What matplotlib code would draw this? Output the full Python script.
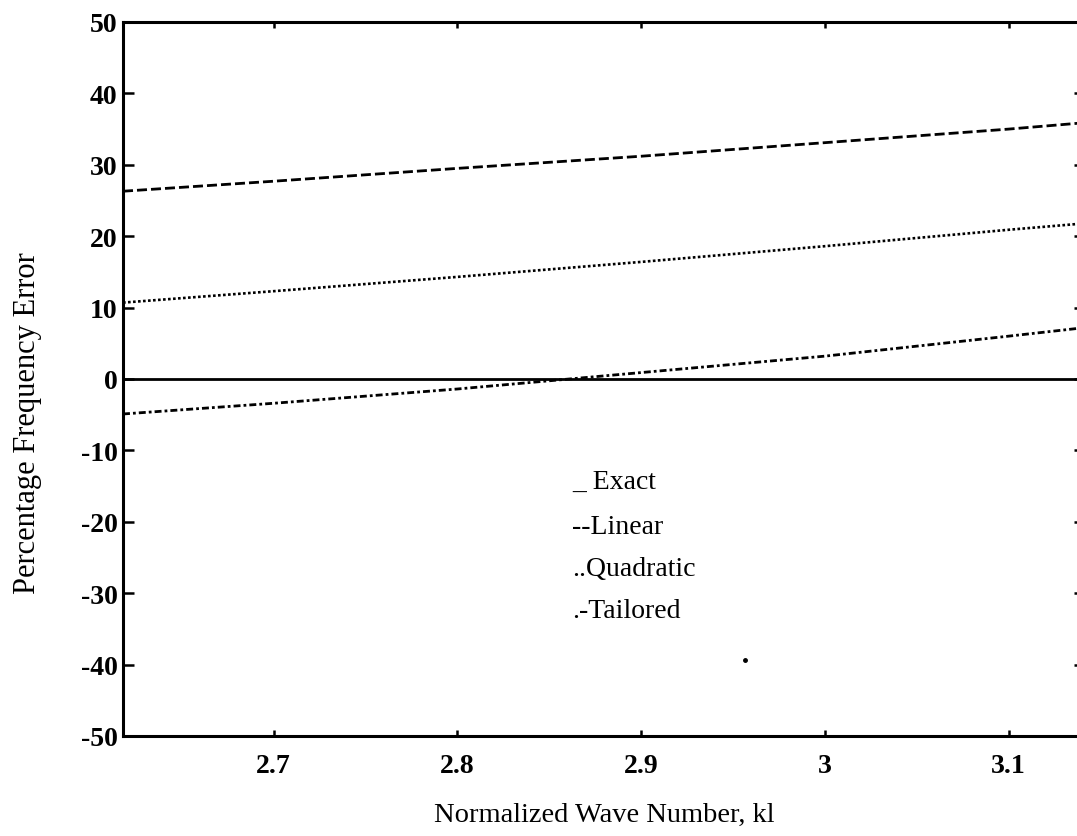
import numpy as np
import matplotlib
matplotlib.use("Agg")
import matplotlib.pyplot as plt

plt.rcParams['font.family'] = ['Liberation Serif', 'DejaVu Serif']

# wave number samples (from 5*pi/6 to pi)
kl = [2.618, 2.7, 2.8, 2.9, 3.0, 3.1, 3.1416]

# percentage frequency error
exact = [0, 0, 0, 0, 0, 0, 0]
linear = [26.3, 27.7, 29.5, 31.2, 33.1, 35.0, 35.9]
quadratic = [10.7, 12.3, 14.3, 16.4, 18.6, 20.9, 21.8]
tailored = [-4.9, -3.4, -1.4, 0.9, 3.2, 6.0, 7.2]

# small speck on the scanned page
speck_x = [2.9565]
speck_y = [-39.3]

ytick_vals = list(range(-50, 51, 10))
ytick_labels = [str(v) for v in ytick_vals]  # plain hyphen like the original
xtick_vals = [2.7, 2.8, 2.9, 3.0, 3.1]
xtick_labels = ['2.7', '2.8', '2.9', '3', '3.1']

legend_lines = ['_ Exact', '--Linear', '..Quadratic', '.-Tailored']

W, H = 1077, 837
fig = plt.figure(figsize=(W / 100, H / 100), dpi=100)
ax = fig.add_axes([123 / W, 1 - 737 / H, (1085 - 123) / W, (737 - 23) / H])

ax.plot(kl, exact, color='black', lw=2.0, solid_capstyle='butt')
ax.plot(kl, linear, color='black', lw=2.0, linestyle=(0, (3.6, 1.45)))
ax.plot(kl, quadratic, color='black', lw=1.9, linestyle=(0, (1.0, 0.9)))
ax.plot(kl, tailored, color='black', lw=2.0, linestyle=(0, (2.5, 1.1, 1.0, 1.1)))
ax.plot(speck_x, speck_y, 'o', color='black', ms=2.5)

ax.set_xlim(5 * np.pi / 6, np.pi)
ax.set_ylim(-50, 50)
ax.set_xticks(xtick_vals)
ax.set_xticklabels(xtick_labels)
ax.set_yticks(ytick_vals)
ax.set_yticklabels(ytick_labels)

for s in ax.spines.values():
    s.set_linewidth(2.2)

ax.tick_params(axis='y', direction='in', length=8, width=1.8, left=True, right=True,
               labelsize=20, pad=4)
ax.tick_params(axis='x', direction='in', length=4, width=1.8, top=True, bottom=True,
               labelsize=20, pad=12)
for lab in ax.get_xticklabels() + ax.get_yticklabels():
    lab.set_fontweight('bold')

# axis labels
fig.text(604 / W, 1 - 815 / H, 'Normalized Wave Number, kl', fontsize=20.5,
         ha='center', va='center')
fig.text(28 / W, 1 - 423 / H, 'Percentage Frequency Error', fontsize=22,
         rotation=90, ha='center', va='center')

# hand written legend
leg_y = [482, 527, 570, 612]
for txt, yy in zip(legend_lines, leg_y):
    fig.text(572 / W, 1 - yy / H, txt, fontsize=20, ha='left', va='center')

plt.savefig('out.png', dpi=100)
